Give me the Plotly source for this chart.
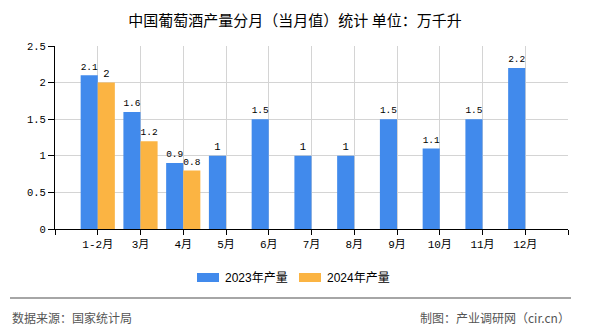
import plotly.graph_objects as go

categories = ["1-2月", "3月", "4月", "5月", "6月", "7月", "8月", "9月", "10月", "11月", "12月"]
series_2023 = [2.1, 1.6, 0.9, 1, 1.5, 1, 1, 1.5, 1.1, 1.5, 2.2]
series_2024 = [2, 1.2, 0.8]
series_names = ["2023年产量", "2024年产量"]
y_ticks = [0, 0.5, 1, 1.5, 2, 2.5]
title_text = "中国葡萄酒产量分月（当月值）统计 单位：万千升"
source_text = "数据来源：国家统计局"
credit_text = "制图：产业调研网（cir.cn）"

colors = ["#418AEC", "#FBB443"]
W, H = 590, 330
L, R, T, B = 55, 22, 46, 101
pw, ph = W - L - R, H - T - B

def px(x):
    return (x - L) / pw

def py(y):
    return (H - B - y) / ph

pos = list(range(len(categories)))
v2024 = series_2024 + [None] * (len(categories) - len(series_2024))

mono = "Liberation Mono, Noto Sans CJK SC, monospace"
cjk = "Noto Sans CJK SC, sans-serif"

fig = go.Figure()
for name, vals, c in zip(series_names, [series_2023, v2024], colors):
    fig.add_trace(go.Bar(
        x=pos, y=vals, name=name, marker=dict(color=c, line=dict(width=0)),
        text=[("" if v is None else f"{v:g}") for v in vals],
        textposition="outside", cliponaxis=False,
        textfont=dict(family=mono, size=10.5, color="#000"),
        hoverinfo="skip",
    ))

fig.update_layout(
    width=W, height=H,
    margin=dict(l=L, r=R, t=T, b=B, pad=0),
    paper_bgcolor="white", plot_bgcolor="white",
    barmode="group", bargap=0.2, bargroupgap=0,
    showlegend=False,
    title=dict(text=title_text, x=0.5, xref="container", xanchor="center",
               y=1 - 21 / H, yref="container", yanchor="middle",
               font=dict(family=cjk, size=15, color="#000")),
)

fig.update_xaxes(
    range=[-1, len(categories)],
    tickmode="array",
    tickvals=[-1] + pos + [len(categories)],
    ticktext=[""] + categories + [""],
    showgrid=True, gridcolor="#D4D4D4", gridwidth=1,
    showline=True, linecolor="#000", linewidth=1,
    ticks="outside", ticklen=5, tickcolor="#000",
    tickfont=dict(family=mono, size=11, color="#000"),
    zeroline=False,
)
fig.update_yaxes(
    range=[0, 2.5],
    tickmode="array", tickvals=y_ticks, ticktext=[f"{v:g}" for v in y_ticks],
    showgrid=True, gridcolor="#D4D4D4", gridwidth=1,
    showline=True, linecolor="#000", linewidth=1,
    ticks="outside", ticklen=6, tickcolor="#000",
    tickfont=dict(family=mono, size=10.5, color="#000"),
    zeroline=False,
)

# custom legend
leg_x = [197, 299]
for lx, name, c in zip(leg_x, series_names, colors):
    fig.add_shape(type="rect", xref="paper", yref="paper",
                  x0=px(lx), x1=px(lx + 22), y0=py(282), y1=py(273),
                  fillcolor=c, line=dict(width=0))
    fig.add_annotation(xref="paper", yref="paper", x=px(lx + 26), y=py(278),
                       text=name, showarrow=False, xanchor="left", yanchor="middle",
                       font=dict(family="Liberation Sans, Noto Sans CJK SC, sans-serif",
                                 size=12, color="#000"))

# footer
fig.add_shape(type="line", xref="paper", yref="paper",
              x0=px(10), x1=px(571), y0=py(298), y1=py(298),
              line=dict(color="#888888", width=1.5))
fig.add_annotation(xref="paper", yref="paper", x=px(10), y=py(317),
                   text=source_text, showarrow=False, xanchor="left", yanchor="middle",
                   font=dict(family=cjk, size=12, color="#555"))
fig.add_annotation(xref="paper", yref="paper", x=px(572), y=py(317),
                   text=credit_text, showarrow=False, xanchor="right", yanchor="middle",
                   font=dict(family=cjk, size=12, color="#555"))

fig.write_html("out.html", config={"displayModeBar": False, "staticPlot": True})
